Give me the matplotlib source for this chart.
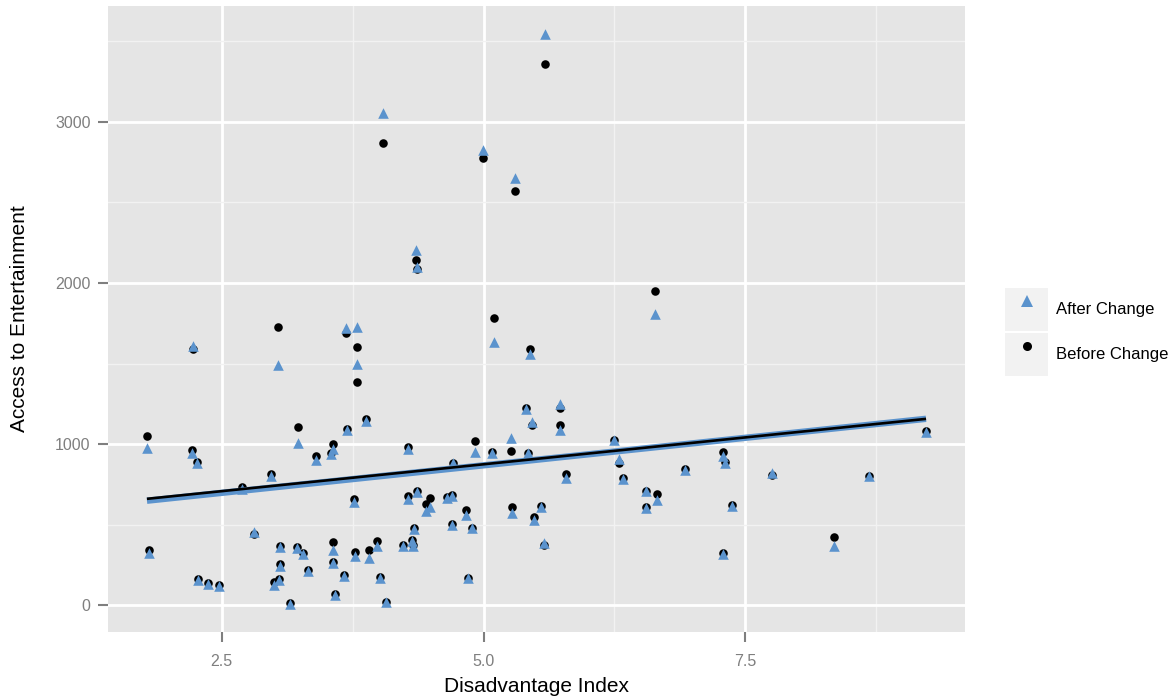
import numpy as np
import matplotlib
matplotlib.use("Agg")
import matplotlib.pyplot as plt
from matplotlib.lines import Line2D
from matplotlib.patches import Rectangle
from matplotlib.legend_handler import HandlerTuple

plt.rcParams['font.family'] = ['Liberation Sans', 'DejaVu Sans']

# Disadvantage index and access values
disadvantage = [1.787, 1.808, 2.226, 2.214, 2.261, 2.271, 2.366, 2.471, 2.698, 2.805,
                2.968, 3.034, 3.056, 3.056, 3.003, 3.044, 3.152, 3.232, 3.222, 3.273,
                3.321, 3.404, 3.559, 3.540, 3.559, 3.562, 3.585, 3.667, 3.683, 3.696,
                3.760, 3.772, 3.791, 3.788, 3.877, 3.906, 3.986, 4.011, 4.072, 4.039,
                4.230, 4.275, 4.281, 4.316, 4.325, 4.339, 4.361, 4.358, 4.367, 4.447,
                4.485, 4.654, 4.701, 4.701, 4.711, 4.835, 4.847, 4.888, 4.916, 5.083,
                5.098, 4.997, 5.302, 5.261, 5.267, 5.401, 5.423, 5.448, 5.461, 5.484,
                5.553, 5.575, 5.588, 5.728, 5.728, 5.789, 6.243, 6.291, 6.333, 6.552,
                6.552, 6.641, 6.654, 6.921, 7.284, 7.309, 7.373, 7.284, 7.755, 8.683,
                8.346, 9.224]

before = [1053, 342, 1588, 965, 891, 165, 140, 124, 738, 443,
          818, 1728, 371, 257, 144, 167, 15, 1107, 362, 325,
          223, 928, 1000, 946, 394, 272, 74, 189, 1693, 1092,
          660, 332, 1604, 1387, 1154, 346, 398, 176, 23, 2866,
          377, 985, 680, 408, 374, 479, 711, 2142, 2089, 631,
          664, 671, 683, 507, 884, 594, 173, 482, 1021, 949,
          1781, 2775, 2569, 961, 608, 1222, 946, 1588, 1120, 549,
          615, 377, 3357, 1223, 1120, 816, 1027, 886, 789, 713,
          609, 1953, 691, 844, 954, 891, 622, 325, 810, 801,
          425, 1082]

after = [975, 326, 1610, 948, 885, 158, 136, 118, 724, 456,
         804, 1491, 362, 247, 130, 159, 12, 1010, 357, 320,
         213, 903, 971, 940, 346, 263, 68, 182, 1721, 1086,
         641, 309, 1728, 1495, 1147, 295, 367, 170, 19, 3057,
         371, 971, 660, 402, 367, 474, 705, 2206, 2099, 588,
         610, 664, 680, 501, 886, 559, 170, 479, 951, 945,
         1635, 2825, 2649, 1041, 573, 1219, 943, 1563, 1136, 532,
         612, 387, 3542, 1249, 1089, 790, 1024, 909, 786, 711,
         604, 1811, 656, 841, 930, 886, 619, 322, 821, 806,
         371, 1078]

series_labels = ["After Change", "Before Change"]
x_ticks = [2.5, 5.0, 7.5]
x_tick_labels = ["2.5", "5.0", "7.5"]
y_ticks = [0, 1000, 2000, 3000]

blue = "#5b93cd"
panel = "#e5e5e5"
tick_grey = "#7f7f7f"

x = np.array(disadvantage)
yb = np.array(before)
ya = np.array(after)

fig = plt.figure(figsize=(11.75, 7), dpi=100)
ax = fig.add_axes([108 / 1175, 1 - 632 / 700, (965 - 108) / 1175, (632 - 6) / 700])
ax.set_facecolor(panel)

# points
ax.scatter(x, yb, marker="o", s=38, color="black", linewidths=0, zorder=3)
ax.scatter(x, ya, marker="^", s=58, color=blue, linewidths=0, zorder=4)

# linear fits over the data range
xs = np.array([x.min(), x.max()])
ka, ca = np.polyfit(x, ya, 1)
kb, cb = np.polyfit(x, yb, 1)
ax.plot(xs, ka * xs + ca, color=blue, lw=4.6, solid_capstyle="butt", zorder=5)
ax.plot(xs, kb * xs + cb, color="black", lw=1.9, solid_capstyle="butt", zorder=6)

ax.set_xticks(x_ticks)
ax.set_xticklabels(x_tick_labels)
ax.set_yticks(y_ticks)
ax.set_xticks([3.75, 6.25, 8.75], minor=True)
ax.set_yticks([500, 1500, 2500, 3500], minor=True)

# ggplot-like 5% expansion (set after the ticks so they don't widen it)
xr = x.max() - x.min()
allY = np.concatenate([yb, ya])
yr = allY.max() - allY.min()
ax.set_xlim(x.min() - 0.05 * xr, x.max() + 0.05 * xr)
ax.set_ylim(allY.min() - 0.05 * yr, allY.max() + 0.05 * yr)

ax.grid(which="major", color="white", lw=2.0)
ax.grid(which="minor", color="#f2f2f2", lw=1.0)
ax.set_axisbelow(True)
for s in ax.spines.values():
    s.set_visible(False)
ax.tick_params(which="major", length=7, width=1.5, color=tick_grey,
               labelcolor=tick_grey, labelsize=11.5)
ax.tick_params(axis="x", which="major", pad=8.5)
ax.tick_params(axis="y", which="major", pad=5.5)
ax.tick_params(which="minor", length=0)

ax.set_xlabel("Disadvantage Index", fontsize=15, labelpad=6)
ax.set_ylabel("Access to Entertainment", fontsize=15, labelpad=19)

# legend with grey key boxes
key_a = (Rectangle((0, 0), 1, 1, facecolor="#f2f2f2", edgecolor="none"),
         Line2D([], [], marker="^", ls="", color=blue, markersize=8, markeredgewidth=0))
key_b = (Rectangle((0, 0), 1, 1, facecolor="#f2f2f2", edgecolor="none"),
         Line2D([], [], marker="o", ls="", color="black", markersize=6.5, markeredgewidth=0))
fig.legend([key_a, key_b], series_labels,
           handler_map={tuple: HandlerTuple(ndivide=1)},
           loc="center left", bbox_to_anchor=(1005 / 1175, 1 - 332 / 700),
           frameon=False, fontsize=12, borderpad=0, borderaxespad=0,
           handlelength=2.6, handleheight=3.58, labelspacing=0.12, handletextpad=0.45)

fig.savefig("out.png", dpi=100)
